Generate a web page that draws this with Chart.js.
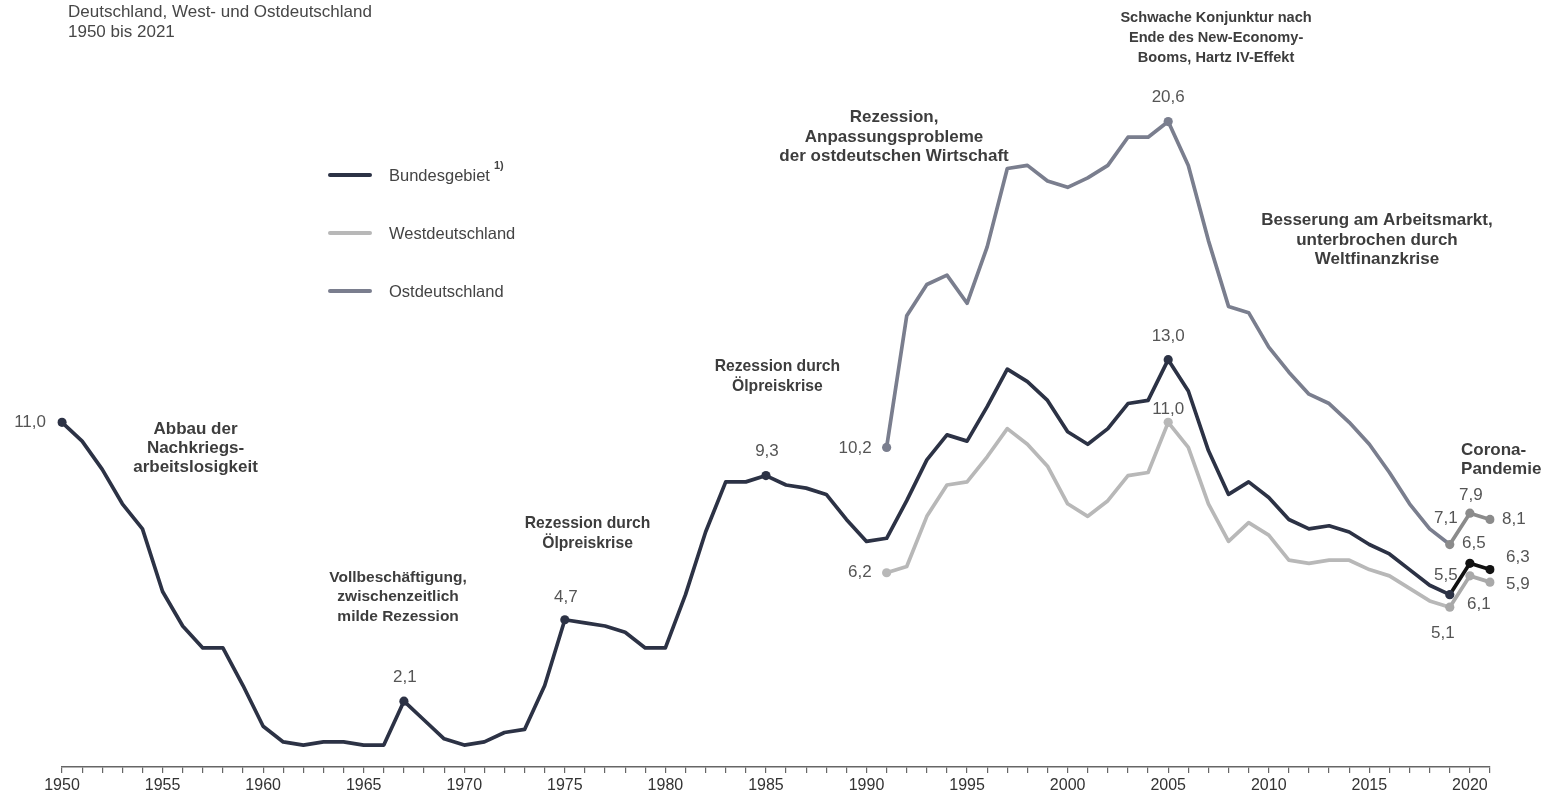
<!DOCTYPE html>
<html><head><meta charset="utf-8">
<script src="https://cdn.jsdelivr.net/npm/chart.js@4/dist/chart.umd.min.js"></script>
<style>html,body{margin:0;padding:0;background:#fff;}#wrap{width:1558px;height:795px;position:relative;}</style>
</head><body><div id="wrap"><canvas id="c" width="1558" height="795"></canvas></div>
<script>
// ---------- DATA ----------
const years = ['1950','1951','1952','1953','1954','1955','1956','1957','1958','1959',
 '1960','1961','1962','1963','1964','1965','1966','1967','1968','1969',
 '1970','1971','1972','1973','1974','1975','1976','1977','1978','1979',
 '1980','1981','1982','1983','1984','1985','1986','1987','1988','1989',
 '1990','1991','1992','1993','1994','1995','1996','1997','1998','1999',
 '2000','2001','2002','2003','2004','2005','2006','2007','2008','2009',
 '2010','2011','2012','2013','2014','2015','2016','2017','2018','2019',
 '2020','2021'];
const tickYears = ['1950','1955','1960','1965','1970','1975','1980','1985','1990','1995','2000','2005','2010','2015','2020'];

// Bundesgebiet 1950-2021
const bund = [11.0,10.4,9.5,8.4,7.6,5.6,4.5,3.8,3.8,2.6,
 1.3,0.8,0.7,0.8,0.8,0.7,0.7,2.1,1.5,0.9,
 0.7,0.8,1.1,1.2,2.6,4.7,4.6,4.5,4.3,3.8,
 3.8,5.5,7.5,9.1,9.1,9.3,9.0,8.9,8.7,7.9,
 7.2,7.3,8.5,9.8,10.6,10.4,11.5,12.7,12.3,11.7,
 10.7,10.3,10.8,11.6,11.7,13.0,12.0,10.1,8.7,9.1,
 8.6,7.9,7.6,7.7,7.5,7.1,6.8,6.3,5.8,5.5,
 6.5,6.3];
// Westdeutschland and Ostdeutschland 1991-2021
const splitStart = '1991';
const west = [6.2,6.4,8.0,9.0,9.1,9.9,10.8,10.3,9.6,8.4,
 8.0,8.5,9.3,9.4,11.0,10.2,8.4,7.2,7.8,7.4,
 6.6,6.5,6.6,6.6,6.3,6.1,5.7,5.3,5.1,6.1,5.9];
const ost = [10.2,14.4,15.4,15.7,14.8,16.6,19.1,19.2,18.7,18.5,
 18.8,19.2,20.1,20.1,20.6,19.2,16.8,14.7,14.5,13.4,
 12.6,11.9,11.6,11.0,10.3,9.4,8.4,7.6,7.1,8.1,7.9];

const seriesNames = ['Bundesgebiet','Westdeutschland','Ostdeutschland'];
const markerYearsBund = ['1950','1967','1975','1985','2005','2019','2020','2021'];
const markerYearsSplit = ['1991','2005','2019','2020','2021'];

// data label texts as printed
const labelsBund = {'1950':'11,0','1967':'2,1','1975':'4,7','1985':'9,3','2005':'13,0','2019':'5,5','2020':'6,5','2021':'6,3'};
const labelsWest = {'1991':'6,2','2005':'11,0','2019':'5,1','2020':'6,1','2021':'5,9'};
const labelsOst  = {'1991':'10,2','2005':'20,6','2019':'7,1','2020':'7,9','2021':'8,1'};

const subtitleLines = ['Deutschland, West- und Ostdeutschland','1950 bis 2021'];
const notes = [
 {lines:['Abbau der','Nachkriegs-','arbeitslosigkeit'], year:1956.64, value:10.78},
 {lines:['Vollbeschäftigung,','zwischenzeitlich','milde Rezession'], year:1966.71, value:6.05},
 {lines:['Rezession durch','Ölpreiskrise'], year:1976.13, value:7.77},
 {lines:['Rezession durch','Ölpreiskrise'], year:1985.57, value:12.78},
 {lines:['Rezession,','Anpassungsprobleme','der ostdeutschen Wirtschaft'], year:1991.37, value:20.74},
 {lines:['Schwache Konjunktur nach','Ende des New-Economy-','Booms, Hartz IV-Effekt'], year:2007.38, value:23.92},
 {lines:['Besserung am Arbeitsmarkt,','unterbrochen durch','Weltfinanzkrise'], year:2015.38, value:17.44},
 {lines:['Corona-','Pandemie'], year:2019.56, value:10.12}
];

// ---------- STYLE ----------
const FONT = '"Liberation Sans", Arial, Helvetica, sans-serif';
const COL = {bund:'#2c3245', west:'#b8b8b8', ost:'#7a7e8e'};
const COL_END = {bund:'#121212', west:'#a9a9a9', ost:'#8b8b8b'};
const noteStyle = [
 {size:17, lh:19.2, align:'center'},
 {size:15.5, lh:19.7, align:'center'},
 {size:15.7, lh:20, align:'center'},
 {size:15.7, lh:20, align:'center'},
 {size:17, lh:19.7, align:'center'},
 {size:14.6, lh:20, align:'center'},
 {size:17, lh:19.3, align:'center'},
 {size:17, lh:19.5, align:'left'}
];
// label offsets (px) relative to their point
const labelPlace = {
 bund:{'1950':[-16,0,'right'],'1967':[1,-24,'center'],'1975':[1,-22,'center'],'1985':[1,-24,'center'],'2005':[0,-23,'center'],
       '2019':[-4,-19,'center'],'2020':[4,-20,'center'],'2021':[16,-12,'left']},
 west:{'1991':[-15,0,'right'],'2005':[0,-13,'center'],'2019':[-7,26,'center'],'2020':[9,28,'center'],'2021':[16,2,'left']},
 ost:{'1991':[-15,1,'right'],'2005':[0,-24,'center'],'2019':[-4,-26,'center'],'2020':[1,-18,'center'],'2021':[12,0,'left']}
};

// ---------- BUILD ----------
const splitIdx = years.indexOf(splitStart);
const padSplit = arr => years.map((y,i) => i < splitIdx ? null : arr[i - splitIdx]);
const idx2019 = years.indexOf('2019');

function makeDs(label, data, key, markers) {
  return {
    label, data, borderColor: COL[key], borderWidth: 3.7, tension: 0,
    borderJoinStyle: 'round', borderCapStyle: 'round',
    pointRadius: ctx => markers.includes(years[ctx.dataIndex]) ? 4.6 : 0,
    pointHoverRadius: 0, pointBorderWidth: 0,
    pointBackgroundColor: ctx => (ctx.dataIndex > idx2019 || (key !== 'bund' && ctx.dataIndex === idx2019)) ? COL_END[key] : COL[key],
    pointBorderColor: ctx => ctx.dataIndex > idx2019 ? COL_END[key] : COL[key],
    segment: { borderColor: ctx => ctx.p0DataIndex >= idx2019 ? COL_END[key] : COL[key] }
  };
}

const textPlugin = {
  id: 'texts',
  afterDatasetsDraw(chart) {
    const ctx = chart.ctx, xs = chart.scales.x, ys = chart.scales.y;
    const px = yr => xs.getPixelForValue(yr - 1950);
    const py = v => ys.getPixelForValue(v);
    ctx.save();
    ctx.textBaseline = 'middle';
    // subtitle
    ctx.fillStyle = '#474747';
    ctx.font = '17px ' + FONT;
    ctx.textAlign = 'left';
    subtitleLines.forEach((t,i) => ctx.fillText(t, 68, 12 + i*20));
    // legend
    const legCols = [COL.bund, COL.west, COL.ost];
    seriesNames.forEach((n,i) => {
      const yy = 175 + i*58;
      ctx.strokeStyle = legCols[i]; ctx.lineWidth = 4; ctx.lineCap = 'round';
      ctx.beginPath(); ctx.moveTo(330, yy); ctx.lineTo(370, yy); ctx.stroke();
      ctx.fillStyle = '#444'; ctx.font = '16.5px ' + FONT; ctx.textAlign = 'left';
      ctx.fillText(n, 389, yy + 1);
      if (i === 0) {
        const w = ctx.measureText(n).width;
        ctx.font = 'bold 11px ' + FONT;
        ctx.fillText('1)', 389 + w + 4, yy - 9);
      }
    });
    // notes
    ctx.fillStyle = '#3d3d3d';
    notes.forEach((nt,i) => {
      const st = noteStyle[i];
      ctx.font = 'bold ' + st.size + 'px ' + FONT;
      ctx.textAlign = st.align;
      const x0 = px(nt.year), y0 = py(nt.value);
      nt.lines.forEach((t,j) => ctx.fillText(t, x0, y0 + j*st.lh));
    });
    // data labels
    ctx.fillStyle = '#555';
    ctx.font = '17px ' + FONT;
    const sets = [['bund', labelsBund, bund, 0], ['west', labelsWest, west, splitIdx], ['ost', labelsOst, ost, splitIdx]];
    sets.forEach(([key, labs, arr, off]) => {
      Object.keys(labs).forEach(yr => {
        const i = years.indexOf(yr);
        const v = arr[i - off];
        const pl = labelPlace[key][yr];
        ctx.textAlign = pl[2];
        ctx.fillText(labs[yr], px(Number(yr)) + pl[0], py(v) + pl[1]);
      });
    });
    ctx.restore();
  }
};

new Chart(document.getElementById('c'), {
  type: 'line',
  data: {
    labels: years,
    datasets: [
      makeDs(seriesNames[1], padSplit(west), 'west', markerYearsSplit),
      makeDs(seriesNames[0], bund, 'bund', markerYearsBund),
      makeDs(seriesNames[2], padSplit(ost), 'ost', markerYearsSplit)
    ]
  },
  options: {
    responsive: false, devicePixelRatio: 1, animation: false,
    layout: { padding: { left: 62, right: 68, top: 15, bottom: 0 } },
    plugins: { legend: { display: false }, tooltip: { enabled: false } },
    events: [],
    scales: {
      x: {
        type: 'category', offset: false,
        grid: { display: true, drawOnChartArea: false, drawTicks: true, tickLength: 6, color: '#666', lineWidth: 1.2 },
        border: { display: true, color: '#666', width: 1.5 },
        ticks: { autoSkip: false, maxRotation: 0, minRotation: 0, padding: 3, color: '#333',
                 font: { family: FONT, size: 16 },
                 callback: (v, i) => tickYears.includes(years[i]) ? years[i] : '' },
        afterFit: s => { s.height = 28; }
      },
      y: { display: false, min: 0, max: 24 }
    }
  },
  plugins: [textPlugin]
});
</script>
</body></html>
